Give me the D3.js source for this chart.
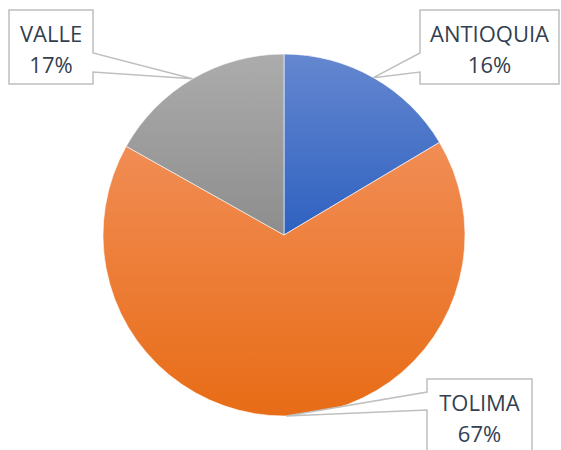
<!DOCTYPE html>
<html>
<head>
<meta charset="utf-8">
<script src="https://cdn.jsdelivr.net/npm/d3@7"></script>
<style>
  body { margin: 0; background: #fff; }
  svg text { font-family: "Open Sans", sans-serif; }
</style>
</head>
<body>
<svg id="chart" width="561" height="450"></svg>
<script>
// data
var regions = ["ANTIOQUIA", "TOLIMA", "VALLE"];
var shares = [16.45, 66.7, 16.85];
var colorsTop = ["#6587d0", "#f18d55", "#acacac"];
var colorsBottom = ["#2e61c0", "#e86c16", "#8d8d8d"];

var svg = d3.select("#chart");
var cx = 284, cy = 235, r = 181;

var defs = svg.append("defs");
regions.forEach(function(d, i) {
  var g = defs.append("linearGradient")
    .attr("id", "grad" + i)
    .attr("x1", 0).attr("y1", 0).attr("x2", 0).attr("y2", 1);
  g.append("stop").attr("offset", "0%").attr("stop-color", colorsTop[i]);
  g.append("stop").attr("offset", "100%").attr("stop-color", colorsBottom[i]);
});

var pie = d3.pie().sort(null).value(function(d) { return d; });
var arcs = pie(shares);
var arc = d3.arc().innerRadius(0).outerRadius(r);

var g = svg.append("g").attr("transform", "translate(" + cx + "," + cy + ")");
g.selectAll("path")
  .data(arcs)
  .enter()
  .append("path")
    .attr("d", arc)
    .attr("fill", function(d, i) { return "url(#grad" + i + ")"; })
    .attr("stroke", "#fff")
    .attr("stroke-width", 0.6);

// callout boxes (layout): x0, y0, x1, y1, side of pointer, pointer y's
var boxes = [
  { x0: 420, y0: 10, x1: 559, y1: 84, side: "left", ya: 53, yb: 72 },
  { x0: 427, y0: 379, x1: 532, y1: 455, side: "left", ya: 392, yb: 410 },
  { x0: 9, y0: 10, x1: 93, y1: 84, side: "right", ya: 53, yb: 72 }
];

arcs.forEach(function(a, i) {
  var b = boxes[i];
  var mid = (a.startAngle + a.endAngle) / 2;
  var px = cx + r * Math.sin(mid), py = cy - r * Math.cos(mid);
  var p;
  if (b.side === "left") {
    p = "M" + b.x0 + "," + b.y0 + "H" + b.x1 + "V" + b.y1 + "H" + b.x0 +
        "V" + b.yb + "L" + px + "," + py + "L" + b.x0 + "," + b.ya + "Z";
  } else {
    p = "M" + b.x0 + "," + b.y0 + "H" + b.x1 + "V" + b.ya +
        "L" + px + "," + py + "L" + b.x1 + "," + b.yb + "V" + b.y1 + "H" + b.x0 + "Z";
  }
  svg.append("path")
    .attr("d", p)
    .attr("fill", "#fff")
    .attr("stroke", "#bfbfbf")
    .attr("stroke-width", 1.5);

  var tx = (b.x0 + b.x1) / 2;
  var t = svg.append("text")
    .attr("text-anchor", "middle")
    .attr("fill", "#333f50")
    .style("font-size", "22px");
  t.append("tspan").attr("x", tx).attr("y", b.y0 + 32).text(regions[i]);
  t.append("tspan").attr("x", tx).attr("y", b.y0 + 63)
    .text(Math.round(a.data / d3.sum(shares) * 100) + "%");
});
</script>
</body>
</html>
